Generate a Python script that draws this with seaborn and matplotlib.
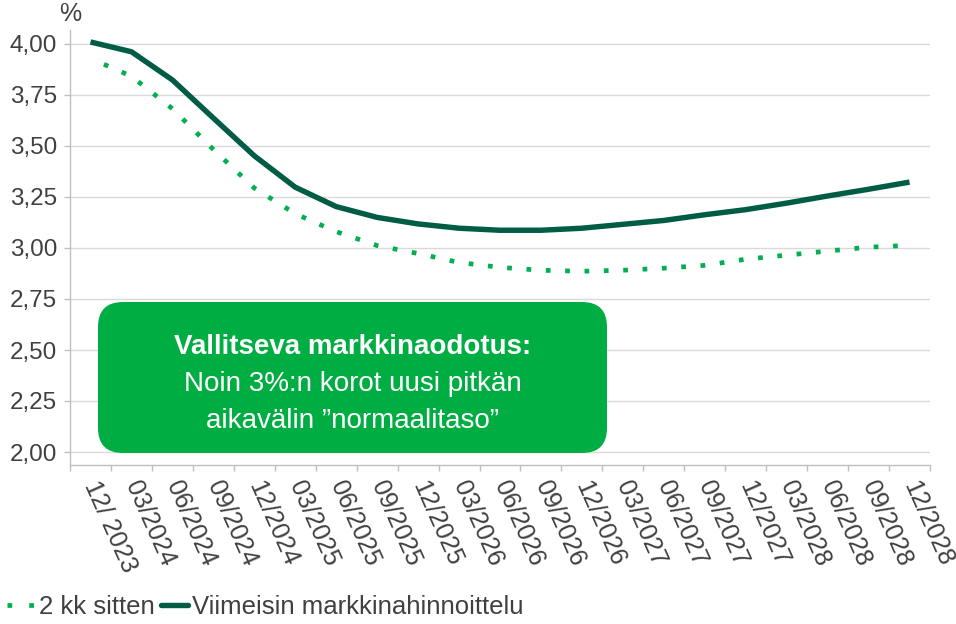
import matplotlib
matplotlib.use("Agg")
import matplotlib.pyplot as plt
import seaborn as sns
import numpy as np
from matplotlib.lines import Line2D
from matplotlib.patches import FancyBboxPatch

# -------------------------------
# data
# -------------------------------
periods = ["12/ 2023", "03/2024", "06/2024", "09/2024", "12/2024", "03/2025",
           "06/2025", "09/2025", "12/2025", "03/2026", "06/2026", "09/2026",
           "12/2026", "03/2027", "06/2027", "09/2027", "12/2027", "03/2028",
           "06/2028", "09/2028", "12/2028"]
latest = [4.01, 3.962, 3.824, 3.637, 3.452, 3.298, 3.203, 3.150, 3.118, 3.097,
          3.087, 3.087, 3.097, 3.116, 3.135, 3.163, 3.188, 3.220, 3.255, 3.288,
          3.323]
two_months_ago = [3.929, 3.842, 3.683, 3.483, 3.294, 3.168, 3.080, 3.012, 2.973,
                  2.929, 2.905, 2.891, 2.886, 2.891, 2.901, 2.915, 2.945, 2.965,
                  2.985, 3.004, 3.013]
yticks = [2.00, 2.25, 2.50, 2.75, 3.00, 3.25, 3.50, 3.75, 4.00]
labels = ["2 kk sitten", "Viimeisin markkinahinnoittelu"]
box_lines = ["Vallitseva markkinaodotus:", "Noin 3%:n korot uusi pitkän",
             "aikavälin \u201dnormaalitaso\u201d"]

DARK = "#005C45"
LIGHT = "#00B04F"
BOX = "#00AD43"
TXT = "#404040"
AXC = "#BFBFBF"

sns.set_style("white")
plt.rcParams["font.family"] = ["Liberation Sans", "DejaVu Sans"]

fig = plt.figure(figsize=(9.56, 6.24), dpi=100)
ax = fig.add_axes([70 / 956, 1 - 465 / 624, 860 / 956, 435 / 624])

pos = np.arange(len(periods))

sns.lineplot(x=pos, y=two_months_ago, ax=ax, color=LIGHT, linewidth=3.4,
             linestyle=(1, (1, 3.1)), legend=False)
sns.lineplot(x=pos, y=latest, ax=ax, color=DARK, linewidth=3.9,
             legend=False, solid_capstyle="butt")

ax.set_xlim(-0.5, len(periods) - 0.5)
ax.set_ylim(2 - 13 / 204, 4 + 14 / 204)

# y axis
ax.set_yticks(yticks)
ax.set_yticklabels([f"{v:.2f}".replace(".", ",") for v in yticks])
ax.yaxis.grid(True, color="#D9D9D9", linewidth=1)
ax.tick_params(axis="y", which="major", left=True, length=4.3, width=1,
               color=AXC, labelsize=17.5, labelcolor=TXT, pad=5)

# x axis: labels at category centres, ticks between categories
ax.set_xticks(pos)
ax.set_xticklabels(periods, rotation=-66, ha="left", va="center",
                   rotation_mode="anchor")
ax.set_xticks(np.arange(len(periods) + 1) - 0.5, minor=True)
ax.tick_params(axis="x", which="major", length=0, labelsize=18,
               labelcolor=TXT, pad=12)
ax.tick_params(axis="x", which="minor", bottom=True, length=4.3, width=1,
               color=AXC)

for s in ["top", "right"]:
    ax.spines[s].set_visible(False)
for s in ["left", "bottom"]:
    ax.spines[s].set_color(AXC)
    ax.spines[s].set_linewidth(1)

ax.set_xlabel("")
ax.set_ylabel("")
fig.text(70 / 956, 1 - 14 / 624, "%", ha="center", va="center",
         fontsize=18, color=TXT)

# annotation box
box = FancyBboxPatch((28 / 860, 12 / 435), 509 / 860, 151 / 435,
                     boxstyle="round,pad=0,rounding_size=0.029",
                     mutation_aspect=860 / 435, transform=ax.transAxes,
                     facecolor=BOX, edgecolor="none", zorder=5)
ax.add_patch(box)
cx = 282.5 / 860
for i, (line, yb) in enumerate(zip(box_lines, [111, 74, 37])):
    ax.text(cx, yb / 435, line, transform=ax.transAxes, ha="center",
            va="baseline", fontsize=20, color="white",
            fontweight="bold" if i == 0 else "normal", zorder=6)

# legend
handles = [Line2D([], [], color=LIGHT, linewidth=3.4, linestyle=(0, (1, 3.6))),
           Line2D([], [], color=DARK, linewidth=3.9)]
leg = fig.legend(handles, labels, loc="center left",
                 bbox_to_anchor=(7 / 956, 1 - 607 / 624),
                 ncol=2, frameon=False, fontsize=18.5, handlelength=1.05,
                 handletextpad=0.18, columnspacing=0.25, borderaxespad=0,
                 borderpad=0)
for t in leg.get_texts():
    t.set_color(TXT)

fig.savefig("out.png", dpi=100)
